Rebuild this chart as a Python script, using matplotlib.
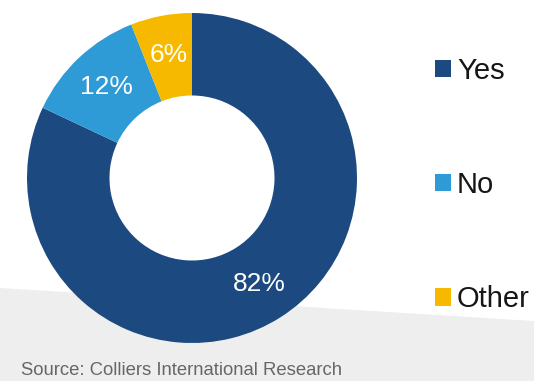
import matplotlib.pyplot as plt
from matplotlib.patches import Polygon

labels = ['Yes', 'No', 'Other']
values = [82, 12, 6]
colors = ['#1c4a80', '#2e9ad6', '#f7b900']

fig = plt.figure(figsize=(5.34, 3.81), dpi=100)
fig.patch.set_facecolor('white')

# light grey band at the bottom of the slide
band = Polygon([(0, 0), (0, 93 / 381), (1, 60 / 381), (1, 0)], closed=True,
               transform=fig.transFigure, facecolor='#eeeeee', edgecolor='none', zorder=0)
fig.patches.append(band)

ax = fig.add_axes([27 / 534, 38 / 381, 330 / 534, 330 / 381])
ax.set_zorder(2)
wedges, texts, autotexts = ax.pie(values, colors=colors, startangle=90, counterclock=False,
                                  autopct='%d%%', pctdistance=0.76,
                                  wedgeprops=dict(width=0.5, edgecolor='none'),
                                  textprops=dict(color='white', fontsize=19, family='Liberation Sans'))
ax.set_xlim(-1, 1)
ax.set_ylim(-1, 1)
ax.set_facecolor('none')

leg = fig.legend(wedges, labels, loc='center left', bbox_to_anchor=(435 / 534, 1 - 185 / 381),
                 frameon=False, borderpad=0, borderaxespad=0,
                 handlelength=0.55, handleheight=0.55, handletextpad=0.2,
                 labelspacing=2.95, prop=dict(family='Liberation Sans', size=21))
leg.set_zorder(3)
for t in leg.get_texts():
    t.set_color('#161616')

fig.text(21 / 534, 2 / 381, 'Source: Colliers International Research', fontsize=13.3,
         color='#666666', family='Liberation Sans', va='bottom', ha='left')

fig.savefig('out.png', dpi=100)
